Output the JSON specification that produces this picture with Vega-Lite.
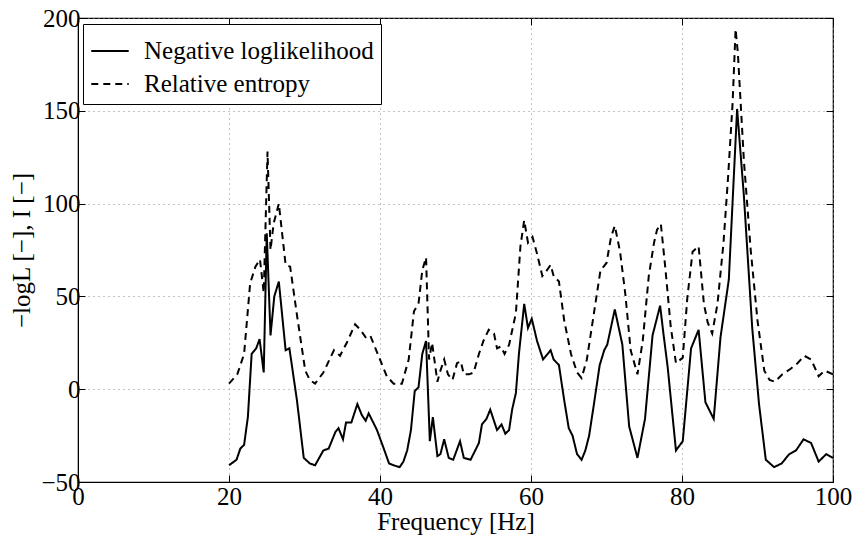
{
  "$schema": "https://vega.github.io/schema/vega-lite/v6.json",
  "width": 755,
  "height": 464,
  "autosize": {"type": "none"},
  "padding": {"left": 78, "top": 18, "right": 21, "bottom": 62},
  "background": "white",
  "config": {
    "view": {"stroke": "black", "strokeWidth": 1.2},
    "font": "Liberation Serif, Times New Roman, serif",
    "style": {"guide-label": {"font": "Liberation Serif, Times New Roman, serif", "fill": "black"}, "guide-title": {"font": "Liberation Serif, Times New Roman, serif", "fill": "black"}},
    "axis": {
      "labelFont": "Liberation Serif, Times New Roman, serif", "labelFontSize": 25, "labelColor": "black",
      "titleFont": "Liberation Serif, Times New Roman, serif", "titleFontSize": 25, "titleFontWeight": "normal", "titleColor": "black",
      "domainColor": "black", "tickColor": "black", "tickSize": -7, "tickWidth": 1,
      "gridColor": "#888", "gridDash": [1, 4], "gridWidth": 1, "gridOpacity": 1
    },
    "legend": {"labelFont": "Liberation Serif, Times New Roman, serif"}
  },
  "resolve": {"axis": {"x": "independent", "y": "independent"}},
  "data": {"values": [
    {"f":20.0,"v":-41,"s":"Negative loglikelihood"},{"f":21.0,"v":-38,"s":"Negative loglikelihood"},{"f":21.5,"v":-32,"s":"Negative loglikelihood"},{"f":22.0,"v":-30,"s":"Negative loglikelihood"},{"f":22.5,"v":-15,"s":"Negative loglikelihood"},{"f":23.0,"v":19,"s":"Negative loglikelihood"},{"f":23.6,"v":22,"s":"Negative loglikelihood"},{"f":24.05,"v":27,"s":"Negative loglikelihood"},{"f":24.6,"v":9,"s":"Negative loglikelihood"},{"f":25.0,"v":84,"s":"Negative loglikelihood"},{"f":25.5,"v":29,"s":"Negative loglikelihood"},{"f":26.0,"v":50,"s":"Negative loglikelihood"},{"f":26.6,"v":58,"s":"Negative loglikelihood"},{"f":27.5,"v":21,"s":"Negative loglikelihood"},{"f":28.0,"v":22,"s":"Negative loglikelihood"},{"f":29.0,"v":-6,"s":"Negative loglikelihood"},{"f":29.9,"v":-37,"s":"Negative loglikelihood"},{"f":30.7,"v":-40,"s":"Negative loglikelihood"},{"f":31.4,"v":-41,"s":"Negative loglikelihood"},{"f":32.5,"v":-33,"s":"Negative loglikelihood"},{"f":33.2,"v":-32,"s":"Negative loglikelihood"},{"f":34.1,"v":-23,"s":"Negative loglikelihood"},{"f":34.5,"v":-21,"s":"Negative loglikelihood"},{"f":35.1,"v":-27,"s":"Negative loglikelihood"},{"f":35.5,"v":-18,"s":"Negative loglikelihood"},{"f":36.2,"v":-18,"s":"Negative loglikelihood"},{"f":37.0,"v":-8,"s":"Negative loglikelihood"},{"f":37.6,"v":-14,"s":"Negative loglikelihood"},{"f":38.1,"v":-17,"s":"Negative loglikelihood"},{"f":38.5,"v":-13,"s":"Negative loglikelihood"},{"f":39.6,"v":-22,"s":"Negative loglikelihood"},{"f":40.5,"v":-32,"s":"Negative loglikelihood"},{"f":41.2,"v":-40,"s":"Negative loglikelihood"},{"f":41.8,"v":-41,"s":"Negative loglikelihood"},{"f":42.6,"v":-42,"s":"Negative loglikelihood"},{"f":43.1,"v":-39,"s":"Negative loglikelihood"},{"f":43.6,"v":-33,"s":"Negative loglikelihood"},{"f":44.1,"v":-22,"s":"Negative loglikelihood"},{"f":44.6,"v":-1,"s":"Negative loglikelihood"},{"f":45.1,"v":1,"s":"Negative loglikelihood"},{"f":45.6,"v":19,"s":"Negative loglikelihood"},{"f":46.1,"v":26,"s":"Negative loglikelihood"},{"f":46.6,"v":-28,"s":"Negative loglikelihood"},{"f":47.0,"v":-15,"s":"Negative loglikelihood"},{"f":47.6,"v":-36,"s":"Negative loglikelihood"},{"f":48.0,"v":-35,"s":"Negative loglikelihood"},{"f":48.5,"v":-27,"s":"Negative loglikelihood"},{"f":49.1,"v":-37,"s":"Negative loglikelihood"},{"f":49.7,"v":-38,"s":"Negative loglikelihood"},{"f":50.6,"v":-28,"s":"Negative loglikelihood"},{"f":51.1,"v":-37,"s":"Negative loglikelihood"},{"f":52.0,"v":-38,"s":"Negative loglikelihood"},{"f":53.1,"v":-29,"s":"Negative loglikelihood"},{"f":53.5,"v":-19,"s":"Negative loglikelihood"},{"f":54.1,"v":-16,"s":"Negative loglikelihood"},{"f":54.6,"v":-11,"s":"Negative loglikelihood"},{"f":55.5,"v":-22,"s":"Negative loglikelihood"},{"f":56.1,"v":-19,"s":"Negative loglikelihood"},{"f":56.6,"v":-24,"s":"Negative loglikelihood"},{"f":57.1,"v":-22,"s":"Negative loglikelihood"},{"f":57.5,"v":-11,"s":"Negative loglikelihood"},{"f":58.0,"v":-2,"s":"Negative loglikelihood"},{"f":58.4,"v":19,"s":"Negative loglikelihood"},{"f":59.1,"v":46,"s":"Negative loglikelihood"},{"f":59.6,"v":33,"s":"Negative loglikelihood"},{"f":60.1,"v":38,"s":"Negative loglikelihood"},{"f":60.8,"v":26,"s":"Negative loglikelihood"},{"f":61.6,"v":16,"s":"Negative loglikelihood"},{"f":62.6,"v":21,"s":"Negative loglikelihood"},{"f":63.0,"v":16,"s":"Negative loglikelihood"},{"f":63.7,"v":13,"s":"Negative loglikelihood"},{"f":64.4,"v":-6,"s":"Negative loglikelihood"},{"f":65.0,"v":-21,"s":"Negative loglikelihood"},{"f":65.5,"v":-25,"s":"Negative loglikelihood"},{"f":66.1,"v":-35,"s":"Negative loglikelihood"},{"f":66.7,"v":-38,"s":"Negative loglikelihood"},{"f":67.2,"v":-33,"s":"Negative loglikelihood"},{"f":67.7,"v":-25,"s":"Negative loglikelihood"},{"f":68.3,"v":-9,"s":"Negative loglikelihood"},{"f":69.1,"v":13,"s":"Negative loglikelihood"},{"f":69.7,"v":21,"s":"Negative loglikelihood"},{"f":70.1,"v":24,"s":"Negative loglikelihood"},{"f":71.1,"v":43,"s":"Negative loglikelihood"},{"f":72.1,"v":24,"s":"Negative loglikelihood"},{"f":73.0,"v":-20,"s":"Negative loglikelihood"},{"f":74.1,"v":-37,"s":"Negative loglikelihood"},{"f":75.1,"v":-16,"s":"Negative loglikelihood"},{"f":76.1,"v":29,"s":"Negative loglikelihood"},{"f":77.1,"v":45,"s":"Negative loglikelihood"},{"f":77.6,"v":28,"s":"Negative loglikelihood"},{"f":78.1,"v":12,"s":"Negative loglikelihood"},{"f":79.2,"v":-33,"s":"Negative loglikelihood"},{"f":80.1,"v":-28,"s":"Negative loglikelihood"},{"f":81.2,"v":22,"s":"Negative loglikelihood"},{"f":82.2,"v":32,"s":"Negative loglikelihood"},{"f":83.1,"v":-7,"s":"Negative loglikelihood"},{"f":84.2,"v":-16,"s":"Negative loglikelihood"},{"f":85.1,"v":28,"s":"Negative loglikelihood"},{"f":86.2,"v":59,"s":"Negative loglikelihood"},{"f":87.3,"v":151,"s":"Negative loglikelihood"},{"f":88.2,"v":104,"s":"Negative loglikelihood"},{"f":89.3,"v":33,"s":"Negative loglikelihood"},{"f":90.2,"v":-8,"s":"Negative loglikelihood"},{"f":91.1,"v":-38,"s":"Negative loglikelihood"},{"f":92.2,"v":-42,"s":"Negative loglikelihood"},{"f":93.2,"v":-40,"s":"Negative loglikelihood"},{"f":94.2,"v":-35,"s":"Negative loglikelihood"},{"f":95.1,"v":-33,"s":"Negative loglikelihood"},{"f":96.1,"v":-27,"s":"Negative loglikelihood"},{"f":97.1,"v":-29,"s":"Negative loglikelihood"},{"f":98.1,"v":-39,"s":"Negative loglikelihood"},{"f":99.1,"v":-35,"s":"Negative loglikelihood"},{"f":100,"v":-37,"s":"Negative loglikelihood"},
    {"f":20.0,"v":3,"s":"Relative entropy"},{"f":21.1,"v":8,"s":"Relative entropy"},{"f":22.0,"v":19,"s":"Relative entropy"},{"f":22.8,"v":57,"s":"Relative entropy"},{"f":23.5,"v":66,"s":"Relative entropy"},{"f":24.1,"v":70,"s":"Relative entropy"},{"f":24.6,"v":52,"s":"Relative entropy"},{"f":25.1,"v":128,"s":"Relative entropy"},{"f":25.5,"v":75,"s":"Relative entropy"},{"f":25.9,"v":89,"s":"Relative entropy"},{"f":26.6,"v":100,"s":"Relative entropy"},{"f":27.5,"v":67,"s":"Relative entropy"},{"f":28.1,"v":66,"s":"Relative entropy"},{"f":29.0,"v":40,"s":"Relative entropy"},{"f":30.1,"v":10,"s":"Relative entropy"},{"f":30.7,"v":5,"s":"Relative entropy"},{"f":31.4,"v":3,"s":"Relative entropy"},{"f":32.5,"v":9,"s":"Relative entropy"},{"f":33.9,"v":21,"s":"Relative entropy"},{"f":34.7,"v":18,"s":"Relative entropy"},{"f":35.6,"v":25,"s":"Relative entropy"},{"f":36.7,"v":35,"s":"Relative entropy"},{"f":37.4,"v":32,"s":"Relative entropy"},{"f":38.1,"v":28,"s":"Relative entropy"},{"f":38.7,"v":29,"s":"Relative entropy"},{"f":39.6,"v":20,"s":"Relative entropy"},{"f":40.9,"v":7,"s":"Relative entropy"},{"f":41.8,"v":3,"s":"Relative entropy"},{"f":42.9,"v":3,"s":"Relative entropy"},{"f":43.8,"v":16,"s":"Relative entropy"},{"f":44.5,"v":42,"s":"Relative entropy"},{"f":45.1,"v":46,"s":"Relative entropy"},{"f":45.6,"v":64,"s":"Relative entropy"},{"f":46.1,"v":71,"s":"Relative entropy"},{"f":46.5,"v":16,"s":"Relative entropy"},{"f":46.9,"v":25,"s":"Relative entropy"},{"f":47.6,"v":4,"s":"Relative entropy"},{"f":48.0,"v":10,"s":"Relative entropy"},{"f":48.5,"v":16,"s":"Relative entropy"},{"f":49.0,"v":8,"s":"Relative entropy"},{"f":49.6,"v":5,"s":"Relative entropy"},{"f":50.2,"v":14,"s":"Relative entropy"},{"f":50.7,"v":15,"s":"Relative entropy"},{"f":51.1,"v":8,"s":"Relative entropy"},{"f":51.8,"v":8,"s":"Relative entropy"},{"f":52.4,"v":9,"s":"Relative entropy"},{"f":53.1,"v":19,"s":"Relative entropy"},{"f":53.7,"v":26,"s":"Relative entropy"},{"f":54.4,"v":32,"s":"Relative entropy"},{"f":55.1,"v":30,"s":"Relative entropy"},{"f":55.5,"v":22,"s":"Relative entropy"},{"f":56.0,"v":23,"s":"Relative entropy"},{"f":56.5,"v":19,"s":"Relative entropy"},{"f":57.1,"v":24,"s":"Relative entropy"},{"f":58.0,"v":41,"s":"Relative entropy"},{"f":58.6,"v":77,"s":"Relative entropy"},{"f":59.1,"v":91,"s":"Relative entropy"},{"f":59.6,"v":79,"s":"Relative entropy"},{"f":60.2,"v":82,"s":"Relative entropy"},{"f":60.8,"v":73,"s":"Relative entropy"},{"f":61.5,"v":61,"s":"Relative entropy"},{"f":62.1,"v":64,"s":"Relative entropy"},{"f":62.6,"v":67,"s":"Relative entropy"},{"f":63.0,"v":61,"s":"Relative entropy"},{"f":63.7,"v":58,"s":"Relative entropy"},{"f":64.4,"v":37,"s":"Relative entropy"},{"f":65.3,"v":19,"s":"Relative entropy"},{"f":66.1,"v":9,"s":"Relative entropy"},{"f":66.7,"v":6,"s":"Relative entropy"},{"f":67.4,"v":16,"s":"Relative entropy"},{"f":68.3,"v":40,"s":"Relative entropy"},{"f":69.2,"v":64,"s":"Relative entropy"},{"f":70.0,"v":68,"s":"Relative entropy"},{"f":70.6,"v":82,"s":"Relative entropy"},{"f":71.1,"v":88,"s":"Relative entropy"},{"f":71.8,"v":74,"s":"Relative entropy"},{"f":72.5,"v":51,"s":"Relative entropy"},{"f":73.2,"v":21,"s":"Relative entropy"},{"f":74.1,"v":8,"s":"Relative entropy"},{"f":74.8,"v":26,"s":"Relative entropy"},{"f":75.6,"v":61,"s":"Relative entropy"},{"f":76.3,"v":79,"s":"Relative entropy"},{"f":76.7,"v":86,"s":"Relative entropy"},{"f":77.2,"v":89,"s":"Relative entropy"},{"f":77.8,"v":65,"s":"Relative entropy"},{"f":78.5,"v":34,"s":"Relative entropy"},{"f":79.2,"v":14,"s":"Relative entropy"},{"f":80.1,"v":17,"s":"Relative entropy"},{"f":80.7,"v":49,"s":"Relative entropy"},{"f":81.4,"v":74,"s":"Relative entropy"},{"f":82.2,"v":77,"s":"Relative entropy"},{"f":82.9,"v":46,"s":"Relative entropy"},{"f":83.4,"v":36,"s":"Relative entropy"},{"f":84.0,"v":30,"s":"Relative entropy"},{"f":84.7,"v":46,"s":"Relative entropy"},{"f":85.5,"v":79,"s":"Relative entropy"},{"f":86.1,"v":114,"s":"Relative entropy"},{"f":86.7,"v":154,"s":"Relative entropy"},{"f":87.1,"v":194,"s":"Relative entropy"},{"f":87.4,"v":181,"s":"Relative entropy"},{"f":88.2,"v":123,"s":"Relative entropy"},{"f":89.1,"v":75,"s":"Relative entropy"},{"f":90.0,"v":37,"s":"Relative entropy"},{"f":90.9,"v":10,"s":"Relative entropy"},{"f":91.6,"v":5,"s":"Relative entropy"},{"f":92.3,"v":4,"s":"Relative entropy"},{"f":93.3,"v":8,"s":"Relative entropy"},{"f":94.4,"v":11,"s":"Relative entropy"},{"f":95.3,"v":14,"s":"Relative entropy"},{"f":96.2,"v":18,"s":"Relative entropy"},{"f":97.1,"v":16,"s":"Relative entropy"},{"f":98.1,"v":7,"s":"Relative entropy"},{"f":98.9,"v":10,"s":"Relative entropy"},{"f":100,"v":8,"s":"Relative entropy"}
  ]},
  "layer": [
    {
      "mark": {"type": "line", "color": "black", "strokeWidth": 2, "clip": true},
      "encoding": {
        "x": {"field": "f", "type": "quantitative", "scale": {"domain": [0, 100], "nice": false},
              "axis": {"orient": "bottom", "values": [0, 20, 40, 60, 80, 100], "title": "Frequency [Hz]", "grid": true,
                       "labelFont": "Liberation Serif, Times New Roman, serif", "titleFont": "Liberation Serif, Times New Roman, serif", "labelFontSize": 25, "titleFontSize": 25,
                       "labelPadding": 9, "titlePadding": 0, "labelFlush": false}},
        "y": {"field": "v", "type": "quantitative", "scale": {"domain": [-50, 200], "nice": false},
              "axis": {"orient": "left", "values": [-50, 0, 50, 100, 150, 200], "title": "−logL [−], I [−]", "grid": true,
                       "labelFont": "Liberation Serif, Times New Roman, serif", "titleFont": "Liberation Serif, Times New Roman, serif", "labelFontSize": 25, "titleFontSize": 25,
                       "labelPadding": 5, "titlePadding": 6, "labelFlush": false}},
        "strokeDash": {"field": "s", "type": "nominal",
          "scale": {"domain": ["Negative loglikelihood", "Relative entropy"], "range": [[1, 0], [7, 5]]},
          "legend": {"title": null, "orient": "none", "legendX": 5, "legendY": 6,
                     "strokeColor": "black", "fillColor": "white", "padding": 7,
                     "symbolType": "stroke", "symbolSize": 1400, "symbolStrokeWidth": 2, "symbolStrokeColor": "black",
                     "labelFont": "Liberation Serif, Times New Roman, serif", "labelFontSize": 25, "labelColor": "black", "labelOffset": 14, "rowPadding": -3, "labelLimit": 400}}
      }
    },
    {
      "mark": {"type": "line", "opacity": 0, "clip": true},
      "encoding": {
        "x": {"field": "f", "type": "quantitative",
              "axis": {"orient": "top", "values": [0, 20, 40, 60, 80, 100], "labels": false, "title": null, "grid": false, "domain": false}},
        "y": {"field": "v", "type": "quantitative",
              "axis": {"orient": "right", "values": [-50, 0, 50, 100, 150, 200], "labels": false, "title": null, "grid": false, "domain": false}},
        "detail": {"field": "s", "type": "nominal"}
      }
    }
  ]
}
